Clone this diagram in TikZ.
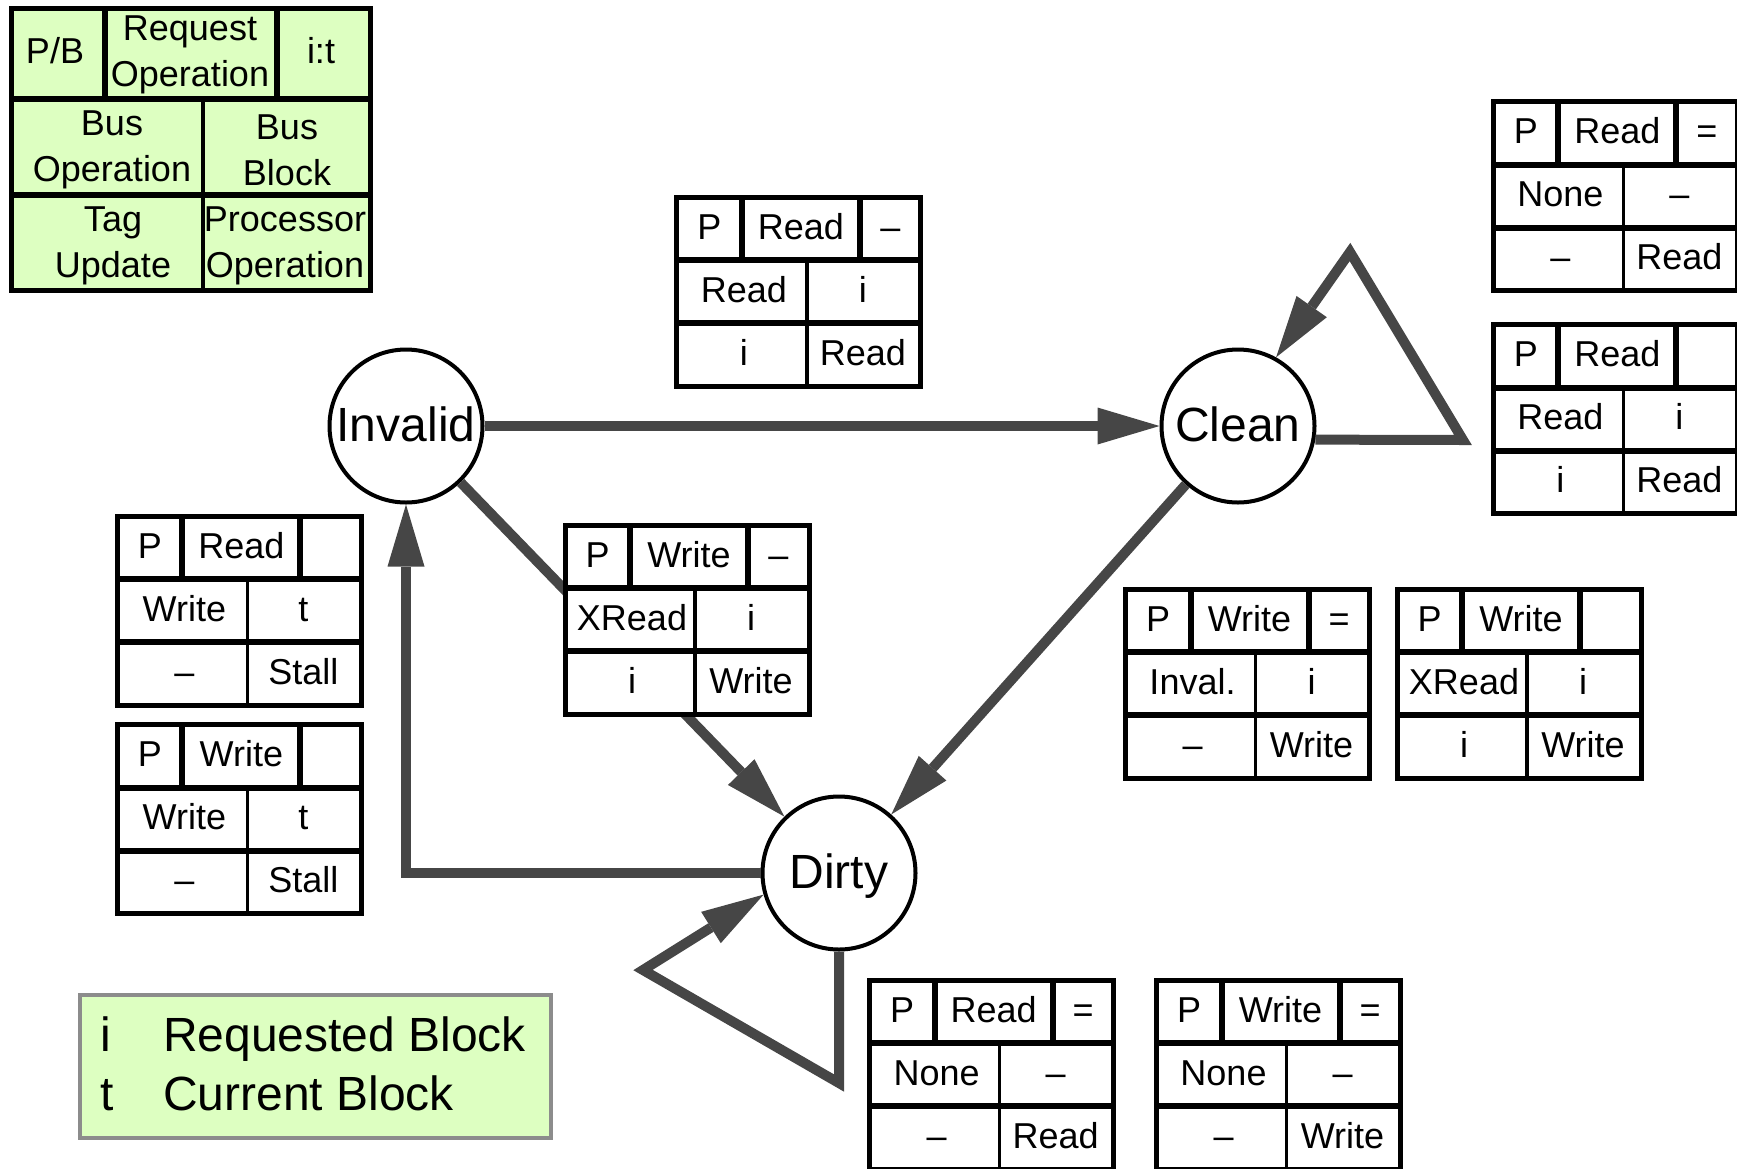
\documentclass[tikz,border=0pt]{standalone}
\usepackage{fontspec}
\setmainfont{Liberation Sans}
\usetikzlibrary{arrows.meta}

\definecolor{keygreen}{RGB}{221,255,193}
\definecolor{arrowgray}{RGB}{70,70,70}
\definecolor{framegray}{RGB}{140,140,140}

\tikzset{
  state/.style={circle, draw=black, line width=4pt, fill=white,
    minimum size=153pt, inner sep=0pt, text height=30pt, text depth=0pt,
    font=\fontsize{48}{56}\selectfont},
  trans/.style={draw=arrowgray, line width=10pt,
    -{Triangle[length=62pt,width=37pt,line width=0pt]}},
  tblframe/.style={draw=black, line width=5pt, fill=white,
    minimum width=244pt, minimum height=189pt, inner sep=0pt, outer sep=0pt},
  rowrule/.style={draw=black, line width=6pt},
  colrule/.style={draw=black, line width=3.5pt},
  cell/.style={inner sep=0pt, text height=21pt, text depth=0pt,
    font=\fontsize{36}{46}\selectfont},
  keytext/.style={inner sep=0pt, align=center,
    font=\fontsize{36}{46}\selectfont},
  notetext/.style={inner sep=0pt, anchor=base west,
    font=\fontsize{48}{56}\selectfont},
}

% One transition table: #1 name, #2 top-left corner,
% #3 request op, #4 i:t, #5 bus op, #6 bus block, #7 tag update, #8 processor op
\newcommand\optable[8]{%
  \begin{scope}[shift={(#2)}]
    \node[tblframe] (#1) at (122,94.5) {};
    \draw[rowrule] (0,63) -- (244,63) (0,126) -- (244,126);
    \draw[rowrule] (65,0) -- (65,63) (183,0) -- (183,63);
    \draw[colrule] (130,63) -- (130,189);
    \node[cell] (#1-pb)  at (32.5,31.5) {P};
    \node[cell] (#1-req) at (124,31.5)  {#3};
    \node[cell] (#1-it)  at (213.5,31.5) {#4};
    \node[cell] (#1-bop) at (67,94.5)   {#5};
    \node[cell] (#1-bbl) at (186,94.5)  {#6};
    \node[cell] (#1-tag) at (67,157.5)  {#7};
    \node[cell] (#1-pop) at (186,157.5) {#8};
  \end{scope}}

\begin{document}
\begin{tikzpicture}[x=1pt, y=-1pt]
  \useasboundingbox (0,0) rectangle (1737,1168);

  % states
  \node[state] (Invalid) at (406,426) {Invalid};
  \node[state] (Clean)   at (1238,426) {Clean};
  \node[state] (Dirty)   at (839,873) {Dirty};

  % corners of the self loops
  \coordinate (cl1) at (1463,440);
  \coordinate (cl2) at (1350,252);
  \coordinate (dl1) at (839,1083);
  \coordinate (dl2) at (643,970);

  % transitions
  \draw[trans] (Invalid) -- (Clean);
  \draw[trans] (Invalid) -- (Dirty);
  \draw[trans] (Clean) -- (Dirty);
  \draw[trans] (Dirty.west) -| (Invalid.south);
  \draw[trans] (Clean.-10) -- (cl1) -- (cl2) -- (Clean.61);
  \draw[trans] (Dirty.south) -- (dl1) -- (dl2) -- (Dirty.196);

  % transition tables
  \optable{tInvClean}{676.9,197.2}{Read}{--}{Read}{i}{i}{Read}
  \optable{tCleanHit}{1493.3,101.9}{Read}{=}{None}{--}{--}{Read}
  \optable{tCleanSnoop}{1493.3,324.6}{Read}{}{Read}{i}{i}{Read}
  \optable{tDirtyRd}{117.4,516.2}{Read}{}{Write}{t}{--}{Stall}
  \optable{tDirtyWr}{117.4,724.5}{Write}{}{Write}{t}{--}{Stall}
  \optable{tInvDirty}{565,525.1}{Write}{--}{XRead}{i}{i}{Write}
  \optable{tCleanWrHit}{1125.5,589.4}{Write}{=}{Inval.}{i}{--}{Write}
  \optable{tCleanWrMiss}{1397,589.4}{Write}{}{XRead}{i}{i}{Write}
  \optable{tDirtyRdHit}{869.6,980.4}{Read}{=}{None}{--}{--}{Read}
  \optable{tDirtyWrHit}{1156.5,980.4}{Write}{=}{None}{--}{--}{Write}

  % key to the table fields
  \node[draw=black, line width=5pt, fill=keygreen, minimum width=358.5pt,
        minimum height=281.5pt, inner sep=0pt, outer sep=0pt]
        (key) at (190.75,149.25) {};
  \draw[rowrule] (11.5,99) -- (370,99) (11.5,195) -- (370,195);
  \draw[rowrule] (105,8.5) -- (105,99) (277,8.5) -- (277,99);
  \draw[line width=4pt] (203,99) -- (203,290);
  \node[keytext] (key-pb)  at (55,51)   {P/B};
  \node[keytext] (key-req) at (190,55)  {Request\\Operation};
  \node[keytext] (key-it)  at (321,51)  {i:t};
  \node[keytext] (key-bop) at (112,150) {Bus\\Operation};
  \node[keytext] (key-bbl) at (287,150) {Bus\\Block};
  \node[keytext] (key-tag) at (113,246) {Tag\\Update};
  \node[keytext] (key-pop) at (285,246) {Processor\\Operation};

  % key to the block symbols
  \node[draw=framegray, line width=4pt, fill=keygreen, minimum width=471pt,
        minimum height=143pt, inner sep=0pt] (blocks) at (315.5,1066.5) {};
  \node[notetext] (sym-i) at (100,1051) {i};
  \node[notetext] (txt-i) at (163,1051) {Requested Block};
  \node[notetext] (sym-t) at (100,1110) {t};
  \node[notetext] (txt-t) at (163,1110) {Current Block};
\end{tikzpicture}
\end{document}
